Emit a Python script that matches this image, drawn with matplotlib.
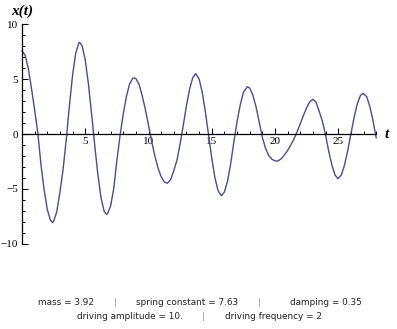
import matplotlib
matplotlib.use('agg')
import matplotlib.pyplot as plt
from matplotlib.ticker import MultipleLocator

# values
t_vals = [0.00, 0.25, 0.50, 0.75, 1.00, 1.25, 1.50, 1.75, 2.00, 2.25, 2.40, 2.50,
          2.75, 3.00, 3.25, 3.50, 3.75, 4.00, 4.25, 4.50, 4.56, 4.75, 5.00, 5.25,
          5.50, 5.75, 6.00, 6.25, 6.50, 6.67, 6.75, 7.00, 7.25, 7.50, 7.75, 8.00,
          8.25, 8.50, 8.75, 8.85, 9.00, 9.25, 9.50, 9.75, 10.00, 10.25, 10.50, 10.75,
          11.00, 11.25, 11.49, 11.75, 12.00, 12.25, 12.50, 12.75, 13.00, 13.25, 13.50, 13.73,
          14.00, 14.25, 14.50, 14.75, 15.00, 15.25, 15.50, 15.76, 16.00, 16.25, 16.50, 16.75,
          17.00, 17.25, 17.50, 17.81, 18.00, 18.25, 18.50, 18.75, 19.00, 19.25, 19.50, 19.75,
          20.00, 20.13, 20.25, 20.50, 20.75, 21.00, 21.25, 21.50, 21.75, 22.00, 22.25, 22.50,
          22.75, 23.00, 23.25, 23.50, 23.75, 24.00, 24.25, 24.50, 24.75, 24.98, 25.25, 25.50,
          25.75, 26.00, 26.25, 26.50, 26.75, 26.96, 27.25, 27.50, 27.75, 28.00]
x_vals = [7.60, 7.19, 5.98, 4.15, 2.20, 0.10, -2.80, -5.10, -6.90, -7.88, -8.07, -7.98,
          -7.10, -5.30, -3.20, -0.50, 2.60, 5.40, 7.40, 8.33, 8.37, 8.06, 6.75, 4.59,
          1.85, -1.05, -3.73, -5.85, -7.08, -7.33, -7.29, -6.60, -5.00, -2.40, -0.15, 1.80,
          3.40, 4.55, 5.08, 5.14, 5.06, 4.55, 3.50, 2.25, 0.80, -0.65, -2.00, -3.10,
          -3.90, -4.38, -4.50, -4.17, -3.35, -2.40, -0.90, 0.80, 2.60, 4.10, 5.15, 5.51,
          5.03, 3.80, 2.00, -0.10, -2.20, -3.99, -5.18, -5.63, -5.30, -4.29, -2.70, -0.70,
          1.15, 2.65, 3.78, 4.32, 4.20, 3.55, 2.50, 1.10, -0.30, -1.30, -1.95, -2.30,
          -2.45, -2.47, -2.45, -2.25, -1.90, -1.50, -1.00, -0.45, 0.20, 0.95, 1.70, 2.40,
          2.95, 3.17, 2.89, 2.05, 1.15, -0.10, -1.60, -2.85, -3.75, -4.08, -3.73, -2.82,
          -1.51, 0.00, 1.50, 2.73, 3.51, 3.72, 3.40, 2.50, 1.20, -0.35]

x_ticks = [5, 10, 15, 20, 25]
y_ticks = [-10, -5, 0, 5, 10]
y_ticklabels = ['\u221210', '\u22125', '0', '5', '10']

line1 = ['mass = 3.92', 'spring constant = 7.63', 'damping = 0.35']
line2 = ['driving amplitude = 10.', 'driving frequency = 2']

W, H = 397, 329
fig = plt.figure(figsize=(W / 100, H / 100), dpi=100)
ax = fig.add_axes([22 / W, (H - 243.5) / H, (376.2 - 22) / W, 219 / H])

ax.plot(t_vals, x_vals, color='#4a4a9e', lw=1.0, clip_on=False,
        solid_joinstyle='round')
ax.set_xlim(0, 28)
ax.set_ylim(-10, 10)

for s in ['top', 'right']:
    ax.spines[s].set_visible(False)
ax.spines['left'].set_position(('data', 0))
ax.spines['bottom'].set_position(('data', 0))
for s in ['left', 'bottom']:
    ax.spines[s].set_linewidth(0.9)

ax.set_xticks(x_ticks)
ax.set_xticklabels([str(v) for v in x_ticks])
ax.set_yticks(y_ticks)
ax.set_yticklabels(y_ticklabels)
ax.xaxis.set_minor_locator(MultipleLocator(1))
ax.yaxis.set_minor_locator(MultipleLocator(1))
ax.tick_params(which='major', direction='in', length=4, width=0.8, pad=2,
               labelsize=8, labelfontfamily='Liberation Serif')
ax.tick_params(which='minor', direction='in', length=2.5, width=0.7)
ax.tick_params(axis='y', pad=3)

fig.text(22 / W, 1 - 11 / H, 'x(t)', ha='center', va='center', fontsize=11,
         fontfamily='Liberation Serif', fontweight='bold', fontstyle='italic')
fig.text(387 / W, 1 - 134 / H, 't', ha='center', va='center', fontsize=11,
         fontfamily='Liberation Serif', fontweight='bold', fontstyle='italic')

fs = 6.4
y1 = 1 - 302.5 / H
y2 = 1 - 316.5 / H
for xpos, s in zip([38, 136.5, 290], line1):
    fig.text(xpos / W, y1, s, ha='left', va='center', fontsize=fs, color='#222222')
for xpos in [115.7, 259]:
    fig.text(xpos / W, y1, '|', ha='center', va='center', fontsize=fs, color='#999999')
for xpos, s in zip([77, 225], line2):
    fig.text(xpos / W, y2, s, ha='left', va='center', fontsize=fs, color='#222222')
fig.text(203.7 / W, y2, '|', ha='center', va='center', fontsize=fs, color='#999999')

fig.savefig('out.png', dpi=100)
